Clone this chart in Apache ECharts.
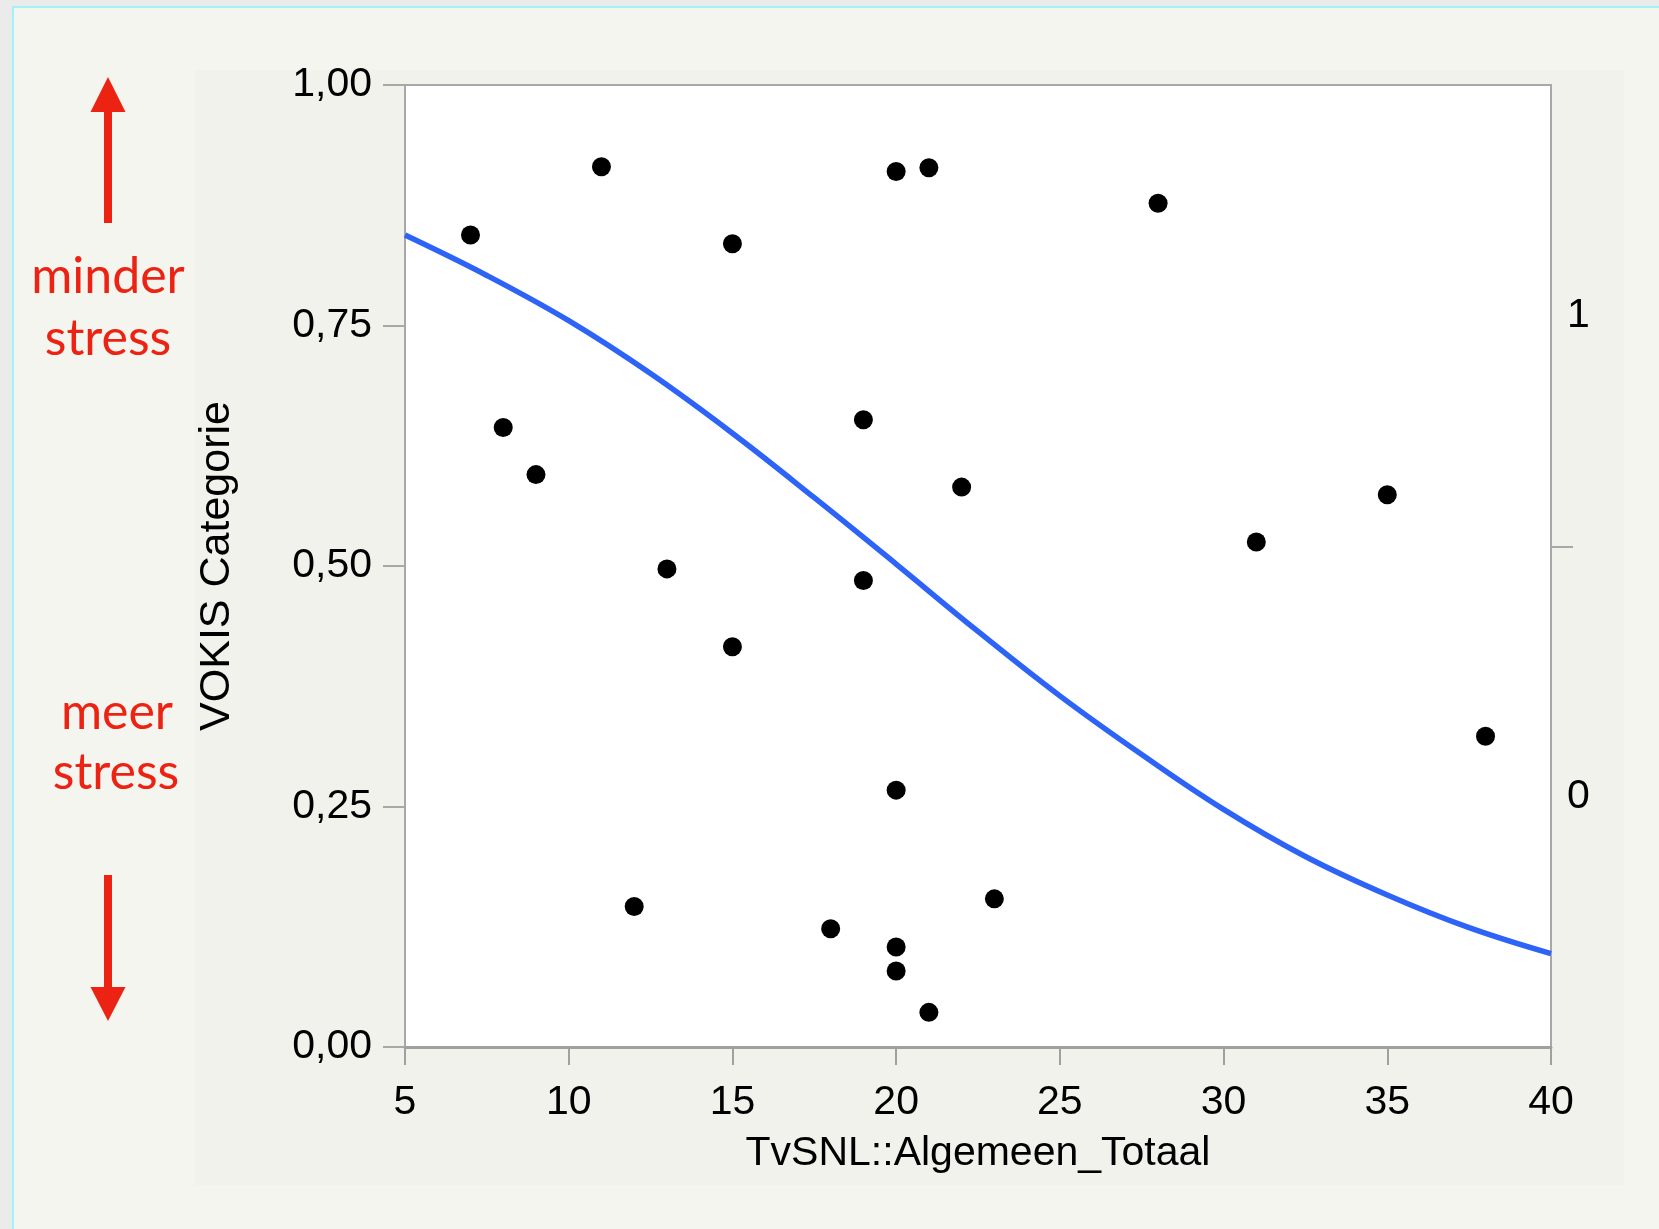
<!DOCTYPE html>
<html>
<head>
<meta charset="utf-8">
<script src="https://cdn.jsdelivr.net/npm/echarts@6/dist/echarts.min.js"></script>
<style>
  html, body { margin: 0; padding: 0; background: #ebebeb; }
  #chart { width: 1659px; height: 1229px; }
</style>
</head>
<body>
<div id="chart"></div>
<script>
// TvSNL::Algemeen_Totaal (x) vs VOKIS Categorie (jittered y)
var pointX = [7, 11, 15, 20, 21, 28, 8, 9, 19, 22, 35, 31, 13, 19, 15, 38, 20, 12, 18, 23, 20, 20, 21]
var pointY = [0.844, 0.915, 0.835, 0.910, 0.914, 0.877, 0.644, 0.595, 0.652, 0.582, 0.574, 0.525,
  0.497, 0.485, 0.416, 0.323, 0.267, 0.146, 0.123, 0.154, 0.104, 0.079, 0.036]

// fitted curve
var curveX = [5, 7.5, 10, 12.5, 15, 17.5, 20, 22.5, 25, 27.5, 30, 32.5, 35, 37.5, 40]
var curveY = [0.844, 0.802, 0.755, 0.700, 0.638, 0.571, 0.502, 0.432, 0.365, 0.304, 0.247, 0.198, 0.158, 0.124, 0.097]

// right axis: response levels and the split between them
var levelNames = ['0', '1']
var levelSplit = 0.52

var red = '#ec2213'
var tickFont = '"Liberation Sans", Arial, sans-serif'

var chart = echarts.init(document.getElementById('chart'))

var scatterData = pointX.map(function (x, i) { return [x, pointY[i]] })
var curveData = curveX.map(function (x, i) { return [x, curveY[i]] })

var option = {
  backgroundColor: '#ebebeb',
  animation: false,
  graphic: [
    // slide background
    { type: 'rect', z: -20, shape: { x: 13, y: 7, width: 1700, height: 1300 },
      style: { fill: '#f5f5f0', stroke: '#a4f1fa', lineWidth: 2 } },
    { type: 'rect', z: -19, shape: { x: 195, y: 70, width: 1429, height: 1115 },
      style: { fill: '#f2f2ed' } },
    // arrow up
    { type: 'rect', shape: { x: 104, y: 110, width: 8, height: 113 }, style: { fill: red } },
    { type: 'polygon', shape: { points: [[108, 77], [90.5, 112], [125.5, 112]] }, style: { fill: red } },
    // arrow down
    { type: 'rect', shape: { x: 104, y: 875, width: 8, height: 114 }, style: { fill: red } },
    { type: 'polygon', shape: { points: [[108, 1021], [90.5, 987], [125.5, 987]] }, style: { fill: red } },
    { type: 'text', x: 108, y: 277, style: { text: 'minder', fill: red, font: '50px Lato', align: 'center', verticalAlign: 'middle' } },
    { type: 'text', x: 108, y: 339, style: { text: 'stress', fill: red, font: '50px Lato', align: 'center', verticalAlign: 'middle' } },
    { type: 'text', x: 117, y: 713, style: { text: 'meer', fill: red, font: '50px Lato', align: 'center', verticalAlign: 'middle' } },
    { type: 'text', x: 116, y: 773, style: { text: 'stress', fill: red, font: '50px Lato', align: 'center', verticalAlign: 'middle' } }
  ],
  grid: {
    left: 405,
    right: 108,
    top: 85,
    bottom: 182,
    show: true,
    backgroundColor: '#ffffff',
    borderColor: '#a8a8a8',
    borderWidth: 2
  },
  xAxis: {
    type: 'value',
    min: 5,
    max: 40,
    interval: 5,
    name: 'TvSNL::Algemeen_Totaal',
    nameLocation: 'middle',
    nameGap: 86,
    nameTextStyle: { color: '#000', fontSize: 41, fontFamily: tickFont },
    axisLine: { show: true, lineStyle: { color: '#a0a0a0', width: 3 } },
    axisTick: { show: true, length: 18, lineStyle: { color: '#a0a0a0', width: 2 } },
    axisLabel: { color: '#000', fontSize: 41, fontFamily: tickFont, margin: 35 },
    splitLine: { show: false }
  },
  yAxis: [
    {
      type: 'value',
      min: 0,
      max: 1,
      interval: 0.25,
      name: 'VOKIS Categorie',
      nameLocation: 'middle',
      nameRotate: 90,
      nameGap: 166,
      nameTextStyle: { color: '#000', fontSize: 43, fontFamily: tickFont },
      axisLine: { show: true, lineStyle: { color: '#a8a8a8', width: 2 } },
      axisTick: { show: true, length: 22, lineStyle: { color: '#a8a8a8', width: 2 } },
      axisLabel: {
        color: '#000',
        fontSize: 41,
        fontFamily: tickFont,
        margin: 33,
        formatter: function (v) { return v.toFixed(2).replace('.', ',') }
      },
      splitLine: { show: false }
    },
    {
      type: 'value',
      position: 'right',
      min: 0,
      max: 1,
      axisLine: { show: false },
      axisTick: {
        show: true,
        length: 22,
        customValues: [levelSplit],
        lineStyle: { color: '#a8a8a8', width: 2 }
      },
      axisLabel: {
        color: '#000',
        fontSize: 41,
        fontFamily: tickFont,
        margin: 16,
        customValues: [levelSplit / 2, (levelSplit + 1) / 2],
        formatter: function (v) { return v > levelSplit ? levelNames[1] : levelNames[0] }
      },
      splitLine: { show: false }
    }
  ],
  series: [
    {
      type: 'line',
      data: curveData,
      smooth: 0.4,
      showSymbol: false,
      lineStyle: { color: '#2d64f7', width: 5.5 },
      z: 2
    },
    {
      type: 'scatter',
      data: scatterData,
      symbol: 'circle',
      symbolSize: 19,
      itemStyle: { color: '#000', opacity: 1 },
      z: 3
    }
  ]
}

chart.setOption(option)
</script>
</body>
</html>
